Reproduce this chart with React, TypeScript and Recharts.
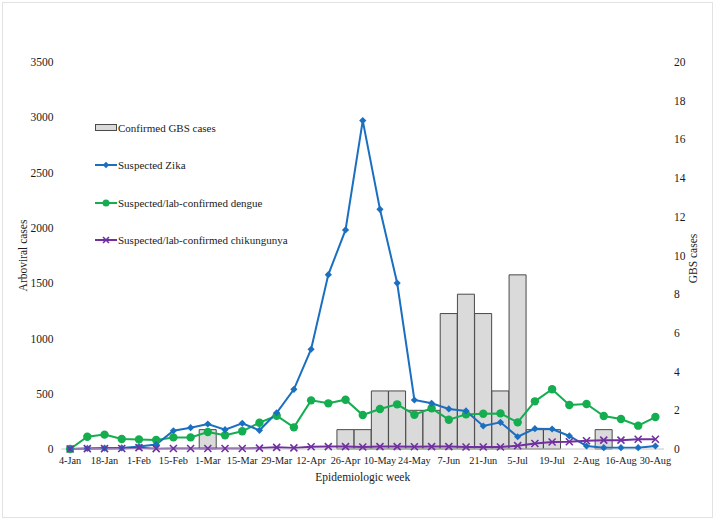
import React from 'react';
import { ComposedChart, Bar, Line, XAxis, YAxis, Legend } from 'recharts';

const weeks = [
  '4-Jan', '11-Jan', '18-Jan', '25-Jan', '1-Feb', '8-Feb', '15-Feb', '22-Feb',
  '1-Mar', '8-Mar', '15-Mar', '22-Mar', '29-Mar', '5-Apr', '12-Apr', '19-Apr',
  '26-Apr', '3-May', '10-May', '17-May', '24-May', '31-May', '7-Jun', '14-Jun',
  '21-Jun', '28-Jun', '5-Jul', '12-Jul', '19-Jul', '26-Jul', '2-Aug', '9-Aug',
  '16-Aug', '23-Aug', '30-Aug',
];
const gbsCases = [0, 0, 0, 0, 0, 0, 0, 0, 1, 0, 0, 0, 0, 0, 0, 0, 1, 1, 3, 3, 2, 2, 7, 8, 7, 3, 9, 1, 1, 0, 0, 1, 0, 0, 0];
const zikaCases = [0, 5, 8, 10, 22, 40, 165, 193, 226, 175, 232, 169, 328, 540, 902, 1577, 1981, 2970, 2168, 1501, 443, 413, 362, 344, 208, 241, 111, 184, 181, 118, 27, 12, 12, 12, 27];
const dengueCases = [0, 111, 130, 90, 87, 81, 105, 105, 154, 124, 160, 238, 301, 196, 440, 413, 446, 307, 362, 404, 310, 368, 265, 313, 319, 322, 241, 431, 540, 398, 407, 298, 271, 211, 289];
const chikCases = [0, 3, 3, 5, 12, 3, 5, 5, 5, 5, 5, 8, 15, 10, 20, 22, 22, 18, 22, 22, 20, 22, 22, 18, 18, 18, 30, 50, 63, 66, 75, 80, 80, 88, 88];
const leftTicks = [0, 500, 1000, 1500, 2000, 2500, 3000, 3500];
const rightTicks = [0, 2, 4, 6, 8, 10, 12, 14, 16, 18, 20];

const seriesNames = {
  gbs: 'Confirmed GBS cases',
  zika: 'Suspected Zika',
  dengue: 'Suspected/lab-confirmed dengue',
  chik: 'Suspected/lab-confirmed chikungunya',
};

const data = weeks.map((w, i) => ({
  week: w,
  gbs: gbsCases[i],
  zika: zikaCases[i],
  dengue: dengueCases[i],
  chik: chikCases[i],
}));

const FONT = '"Liberation Serif", "Times New Roman", serif';
const TEXT = '#1a1a1a';
const BLUE = '#1b6fc0';
const GREEN = '#14ad4f';
const PURPLE = '#7030a0';
const BAR_FILL = '#dadada';
const BAR_STROKE = '#4a4a4a';

const DiamondDot = (props: any) => {
  const { cx, cy, index } = props;
  if (cx == null || cy == null) return <g key={index} />;
  const r = 3.6;
  return <path key={index} d={`M${cx},${cy - r}L${cx + r},${cy}L${cx},${cy + r}L${cx - r},${cy}Z`} fill={BLUE} />;
};
const CircleDot = (props: any) => {
  const { cx, cy, index } = props;
  if (cx == null || cy == null) return <g key={index} />;
  return <circle key={index} cx={cx} cy={cy} r={4.2} fill={GREEN} />;
};
const CrossDot = (props: any) => {
  const { cx, cy, index } = props;
  if (cx == null || cy == null) return <g key={index} />;
  const r = 3.5;
  return (
    <path key={index} d={`M${cx - r},${cy - r}L${cx + r},${cy + r}M${cx - r},${cy + r}L${cx + r},${cy - r}`} stroke={PURPLE} strokeWidth={1.6} fill="none" />
  );
};

const LegendIcon = ({ kind }: { kind: string }) => {
  if (kind === 'gbs') {
    return (
      <svg width={22} height={10}>
        <rect x={0.5} y={1.5} width={21} height={6} fill={BAR_FILL} stroke={BAR_STROKE} strokeWidth={1} />
      </svg>
    );
  }
  const color = kind === 'zika' ? BLUE : kind === 'dengue' ? GREEN : PURPLE;
  return (
    <svg width={22} height={10}>
      <line x1={0} y1={5} x2={22} y2={5} stroke={color} strokeWidth={2} />
      {kind === 'zika' && <path d="M11,1.8L14.2,5L11,8.2L7.8,5Z" fill={color} />}
      {kind === 'dengue' && <circle cx={11} cy={5} r={3.5} fill={color} />}
      {kind === 'chik' && <path d="M8,2L14,8M8,8L14,2" stroke={color} strokeWidth={1.6} />}
    </svg>
  );
};

const CustomLegend = () => {
  const keys = ['gbs', 'zika', 'dengue', 'chik'] as const;
  return (
    <div style={{ fontFamily: FONT, fontSize: 11, color: TEXT }}>
      {keys.map((k) => (
        <div key={k} style={{ height: 37.3, display: 'flex', alignItems: 'center', whiteSpace: 'nowrap' }}>
          <LegendIcon kind={k} />
          <span style={{ marginLeft: 1 }}>{seriesNames[k]}</span>
        </div>
      ))}
    </div>
  );
};

const LeftAxisLabel = (props: any) => {
  const { viewBox } = props;
  const x = viewBox.x + 11.5;
  const y = viewBox.y + viewBox.height / 2;
  return (
    <text x={x} y={y} transform={`rotate(-90, ${x}, ${y})`} textAnchor="middle" dominantBaseline="central" fontFamily={FONT} fontSize={11.5} fill={TEXT}>
      Arboviral cases
    </text>
  );
};
const RightAxisLabel = (props: any) => {
  const { viewBox } = props;
  const x = viewBox.x + 29;
  const y = viewBox.y + viewBox.height / 2 + 3;
  return (
    <text x={x} y={y} transform={`rotate(-90, ${x}, ${y})`} textAnchor="middle" dominantBaseline="central" fontFamily={FONT} fontSize={11.5} fill={TEXT}>
      GBS cases
    </text>
  );
};
const BottomAxisLabel = (props: any) => {
  const { viewBox } = props;
  const x = viewBox.x + viewBox.width / 2;
  const y = viewBox.y + 28;
  return (
    <text x={x} y={y} textAnchor="middle" dominantBaseline="central" fontFamily={FONT} fontSize={11.5} fill={TEXT}>
      Epidemiologic week
    </text>
  );
};

const yTickStyle = { fontFamily: FONT, fontSize: 11.5, fill: TEXT };
const xTickStyle = { fontFamily: FONT, fontSize: 10.3, fill: TEXT };

export default function App() {
  return (
    <div style={{ position: 'absolute', left: 0, top: 0, width: 716, height: 521, background: '#fff', fontFamily: FONT }}>
      <div style={{ position: 'absolute', left: 2, top: 2, width: 709, height: 514, border: '1px solid #e2e2e2' }} />
      <ComposedChart
        width={716}
        height={521}
        data={data}
        margin={{ top: 62, right: 12, bottom: 32, left: 11.5 }}
        barCategoryGap={0}
        barGap={0}
        style={{ fontFamily: FONT }}
      >
        <XAxis
          dataKey="week"
          interval={1}
          tickLine={false}
          axisLine={{ stroke: '#c4c4c4', strokeWidth: 1 }}
          tick={xTickStyle}
          height={40}
          label={<BottomAxisLabel />}
        />
        <YAxis
          yAxisId="left"
          orientation="left"
          domain={[0, 3500]}
          ticks={leftTicks}
          width={50}
          tickLine={false}
          axisLine={false}
          tick={yTickStyle}
          label={<LeftAxisLabel />}
        />
        <YAxis
          yAxisId="right"
          orientation="right"
          domain={[0, 20]}
          ticks={rightTicks}
          width={40}
          tickLine={false}
          axisLine={false}
          tickMargin={4}
          tick={yTickStyle}
          label={<RightAxisLabel />}
        />
        <Legend
          layout="vertical"
          align="center"
          verticalAlign="middle"
          content={<CustomLegend />}
          wrapperStyle={{ left: 95, top: 109.5, width: 240, height: 150 }}
        />
        <Bar yAxisId="right" dataKey="gbs" name={seriesNames.gbs} fill={BAR_FILL} stroke={BAR_STROKE} strokeWidth={1} isAnimationActive={false} />
        <Line yAxisId="left" type="linear" dataKey="dengue" name={seriesNames.dengue} stroke={GREEN} strokeWidth={2} dot={CircleDot} activeDot={false} isAnimationActive={false} />
        <Line yAxisId="left" type="linear" dataKey="zika" name={seriesNames.zika} stroke={BLUE} strokeWidth={2} dot={DiamondDot} activeDot={false} isAnimationActive={false} />
        <Line yAxisId="left" type="linear" dataKey="chik" name={seriesNames.chik} stroke={PURPLE} strokeWidth={2} dot={CrossDot} activeDot={false} isAnimationActive={false} />
      </ComposedChart>
    </div>
  );
}
